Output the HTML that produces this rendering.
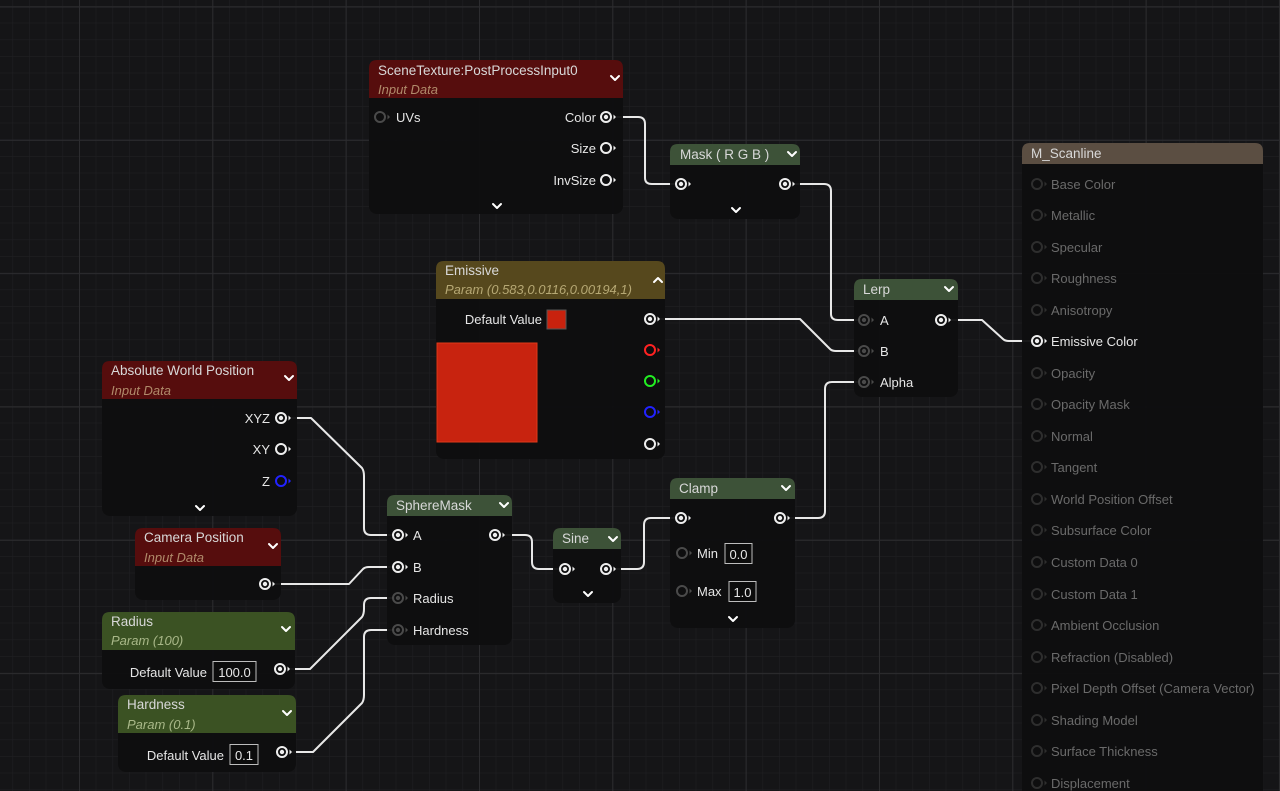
<!DOCTYPE html>
<html><head><meta charset="utf-8"><style>
html,body{margin:0;padding:0;background:#151517;overflow:hidden}
svg{display:block}
text{font-family:"Liberation Sans",sans-serif;font-size:13px;fill:#e6e6e6}
.t{font-size:13.5px;fill:#d8d8d8}
.s{font-style:italic;fill:#b08a6a;font-size:13px}
.sg{font-style:italic;fill:#a9b889;font-size:13px}
.sy{font-style:italic;fill:#b6a874;font-size:13px}
.d{fill:#6a6a6a}
.body{fill:#0e0e0f;fill-opacity:.95}
.w{fill:none;stroke:#e8e8e8;stroke-width:2;stroke-linejoin:round;stroke-linecap:round}
.ch{fill:none;stroke:#fff;stroke-width:2;stroke-linecap:round;stroke-linejoin:round}
.box{fill:#0c0c0c;stroke:#bdbdbd;stroke-width:1}
</style></head><body>
<svg width="1280" height="791" viewBox="0 0 1280 791" xmlns="http://www.w3.org/2000/svg">
<defs>
<pattern id="minor" x="12.33" y="6" width="16.667" height="16.667" patternUnits="userSpaceOnUse">
<path d="M0 0V16.667M0 0H16.667" stroke="#1f1f22" stroke-width="1.2" fill="none"/>
</pattern>
<pattern id="major" x="79" y="6.5" width="133.33" height="133.33" patternUnits="userSpaceOnUse">
<path d="M0 0V133.33M0 0H133.33" stroke="#2c2c2f" stroke-width="2" fill="none"/>
</pattern>
<g id="pc"><circle r="5" fill="none" stroke="#eee" stroke-width="2"/><circle r="2.2" fill="#eee"/><path d="M7.5 -2.5L10 0L7.5 2.5Z" fill="#eee"/></g>
<g id="po"><circle r="5" fill="none" stroke="#eee" stroke-width="2"/><path d="M7.5 -2.5L10 0L7.5 2.5Z" fill="#eee"/></g>
<g id="pg"><circle r="5" fill="none" stroke="#4a4a4a" stroke-width="2"/><circle r="2.2" fill="#4a4a4a"/><path d="M7.5 -2.5L10 0L7.5 2.5Z" fill="#4a4a4a"/></g>
<g id="pu"><circle r="5" fill="none" stroke="#4a4a4a" stroke-width="2"/><path d="M7.5 -2.5L10 0L7.5 2.5Z" fill="#4a4a4a"/></g>
<g id="pd"><circle r="5" fill="none" stroke="#2e2e2e" stroke-width="2"/><path d="M7.5 -2.5L10 0L7.5 2.5Z" fill="#2e2e2e"/></g>
</defs>
<rect width="1280" height="791" fill="#151517"/>
<rect width="1280" height="791" fill="url(#minor)"/>
<rect width="1280" height="791" fill="url(#major)"/>

<path class="w" d="M617 117H638Q645 117 645 124V178Q645 184 652 184H676"/>
<path class="w" d="M795 184H824Q831 184 831 191V314Q831 320 838 320H860"/>
<path class="w" d="M660 319H800L830 349Q832 351 836 351H860"/>
<path class="w" d="M950 320H982L1003 339Q1005 341 1009 341H1033"/>
<path class="w" d="M790 518H818Q825 518 825 511V389Q825 382 832 382H860"/>
<path class="w" d="M291 418H311L362 468Q364 471 364 476V528Q364 535 371 535H394"/>
<path class="w" d="M275 584H349L363 569Q365 567 369 567H394"/>
<path class="w" d="M290 669H310L362 617Q364 614 364 609V605Q364 598 371 598H394"/>
<path class="w" d="M292 752H313L362 703Q364 700 364 695V637Q364 630 371 630H394"/>
<path class="w" d="M505 535H525Q532 535 532 542V562Q532 569 539 569H563"/>
<path class="w" d="M615 569H637Q644 569 644 562V525Q644 518 651 518H679"/>

<rect class="body" x="369" y="60" width="254" height="154" rx="8"/>
<path d="M377 60H615Q623 60 623 68V98H369V68Q369 60 377 60Z" fill="#560d0d"/>
<text class="t" x="378" y="75">SceneTexture:PostProcessInput0</text>
<text class="s" x="378" y="94">Input Data</text>
<path class="ch" d="M611 76L615 80L619 76"/>
<use href="#pu" x="380" y="117"/><text x="396" y="122">UVs</text>
<text x="596" y="122" text-anchor="end">Color</text><use href="#pc" x="606" y="117"/>
<text x="596" y="153" text-anchor="end">Size</text><use href="#po" x="606" y="148"/>
<text x="596" y="185" text-anchor="end">InvSize</text><use href="#po" x="606" y="180"/>
<path class="ch" d="M493 204L497 208L501 204"/>

<rect class="body" x="670" y="144" width="130" height="75" rx="8"/>
<path d="M678 144H792Q800 144 800 152V165H670V152Q670 144 678 144Z" fill="#3d5238"/>
<text class="t" x="680" y="159">Mask ( R G B )</text>
<path class="ch" d="M788 152L792 156L796 152"/>
<use href="#pc" x="681" y="184"/><use href="#pc" x="785" y="184"/>
<path class="ch" d="M732 208L736 212L740 208"/>

<rect class="body" x="436" y="261" width="229" height="198" rx="8"/>
<path d="M444 261H657Q665 261 665 269V299H436V269Q436 261 444 261Z" fill="#56481d"/>
<text class="t" x="445" y="275">Emissive</text>
<text class="sy" x="445" y="294">Param (0.583,0.0116,0.00194,1)</text>
<path class="ch" d="M654 282L658 278L662 282"/>
<text x="542" y="324" text-anchor="end">Default Value</text>
<rect x="547" y="310" width="19" height="19" fill="#c8220e" stroke="#555" stroke-width="1"/>
<rect x="437" y="343" width="100" height="99" fill="#c8230f" stroke="#e03a1a" stroke-width="1"/>
<use href="#pc" x="650" y="319"/>
<g transform="translate(650 350)"><circle r="5" fill="none" stroke="#f22" stroke-width="2"/><path d="M7.5 -2.5L10 0L7.5 2.5Z" fill="#f22"/></g>
<g transform="translate(650 381)"><circle r="5" fill="none" stroke="#2e2" stroke-width="2"/><path d="M7.5 -2.5L10 0L7.5 2.5Z" fill="#2e2"/></g>
<g transform="translate(650 412)"><circle r="5" fill="none" stroke="#22f" stroke-width="2"/><path d="M7.5 -2.5L10 0L7.5 2.5Z" fill="#22f"/></g>
<use href="#po" x="650" y="444"/>

<rect class="body" x="854" y="279" width="104" height="118" rx="8"/>
<path d="M862 279H950Q958 279 958 287V300H854V287Q854 279 862 279Z" fill="#3d5238"/>
<text class="t" x="863" y="294">Lerp</text>
<path class="ch" d="M945 287L949 291L953 287"/>
<use href="#pg" x="864" y="320"/><text x="880" y="325">A</text>
<use href="#pg" x="864" y="351"/><text x="880" y="356">B</text>
<use href="#pg" x="864" y="382"/><text x="880" y="387">Alpha</text>
<use href="#pc" x="941" y="320"/>

<rect class="body" x="1022" y="143" width="241" height="660" rx="8"/>
<path d="M1030 143H1255Q1263 143 1263 151V164H1022V151Q1022 143 1030 143Z" fill="#5b4e42"/>
<text class="t" x="1031" y="158">M_Scanline</text>
<g>
<use href="#pd" x="1037" y="184"/><text class="d" x="1051" y="189">Base Color</text>
<use href="#pd" x="1037" y="215"/><text class="d" x="1051" y="220">Metallic</text>
<use href="#pd" x="1037" y="247"/><text class="d" x="1051" y="252">Specular</text>
<use href="#pd" x="1037" y="278"/><text class="d" x="1051" y="283">Roughness</text>
<use href="#pd" x="1037" y="310"/><text class="d" x="1051" y="315">Anisotropy</text>
<use href="#pc" x="1037" y="341"/><text x="1051" y="346">Emissive Color</text>
<use href="#pd" x="1037" y="373"/><text class="d" x="1051" y="378">Opacity</text>
<use href="#pd" x="1037" y="404"/><text class="d" x="1051" y="409">Opacity Mask</text>
<use href="#pd" x="1037" y="436"/><text class="d" x="1051" y="441">Normal</text>
<use href="#pd" x="1037" y="467"/><text class="d" x="1051" y="472">Tangent</text>
<use href="#pd" x="1037" y="499"/><text class="d" x="1051" y="504">World Position Offset</text>
<use href="#pd" x="1037" y="530"/><text class="d" x="1051" y="535">Subsurface Color</text>
<use href="#pd" x="1037" y="562"/><text class="d" x="1051" y="567">Custom Data 0</text>
<use href="#pd" x="1037" y="594"/><text class="d" x="1051" y="599">Custom Data 1</text>
<use href="#pd" x="1037" y="625"/><text class="d" x="1051" y="630">Ambient Occlusion</text>
<use href="#pd" x="1037" y="657"/><text class="d" x="1051" y="662">Refraction (Disabled)</text>
<use href="#pd" x="1037" y="688"/><text class="d" x="1051" y="693">Pixel Depth Offset (Camera Vector)</text>
<use href="#pd" x="1037" y="720"/><text class="d" x="1051" y="725">Shading Model</text>
<use href="#pd" x="1037" y="751"/><text class="d" x="1051" y="756">Surface Thickness</text>
<use href="#pd" x="1037" y="783"/><text class="d" x="1051" y="788">Displacement</text>
</g>

<rect class="body" x="102" y="361" width="195" height="155" rx="8"/>
<path d="M110 361H289Q297 361 297 369V399H102V369Q102 361 110 361Z" fill="#560d0d"/>
<text class="t" x="111" y="375">Absolute World Position</text>
<text class="s" x="111" y="395">Input Data</text>
<path class="ch" d="M285 376L289 380L293 376"/>
<text x="270" y="423" text-anchor="end">XYZ</text><use href="#pc" x="281" y="418"/>
<text x="270" y="454" text-anchor="end">XY</text><use href="#po" x="281" y="449"/>
<text x="270" y="486" text-anchor="end">Z</text>
<g transform="translate(281 481)"><circle r="5" fill="none" stroke="#22f" stroke-width="2"/><path d="M7.5 -2.5L10 0L7.5 2.5Z" fill="#22f"/></g>
<path class="ch" d="M196 506L200 510L204 506"/>

<rect class="body" x="135" y="528" width="146" height="72" rx="8"/>
<path d="M143 528H273Q281 528 281 536V566H135V536Q135 528 143 528Z" fill="#560d0d"/>
<text class="t" x="144" y="542">Camera Position</text>
<text class="s" x="144" y="562">Input Data</text>
<path class="ch" d="M269 544L273 548L277 544"/>
<use href="#pc" x="265" y="584"/>

<rect class="body" x="102" y="612" width="193" height="77" rx="8"/>
<path d="M110 612H287Q295 612 295 620V650H102V620Q102 612 110 612Z" fill="#3b5223"/>
<text class="t" x="111" y="626">Radius</text>
<text class="sg" x="111" y="645">Param (100)</text>
<path class="ch" d="M282 627L286 631L290 627"/>
<text x="207" y="677" text-anchor="end">Default Value</text>
<rect class="box" x="213" y="661.5" width="43" height="20"/><text x="234.5" y="677" text-anchor="middle">100.0</text>
<use href="#pc" x="280" y="669"/>

<rect class="body" x="118" y="695" width="178" height="77" rx="8"/>
<path d="M126 695H288Q296 695 296 703V733H118V703Q118 695 126 695Z" fill="#3b5223"/>
<text class="t" x="127" y="709">Hardness</text>
<text class="sg" x="127" y="729">Param (0.1)</text>
<path class="ch" d="M283 711L287 715L291 711"/>
<text x="224" y="760" text-anchor="end">Default Value</text>
<rect class="box" x="230" y="744.5" width="28" height="20"/><text x="244" y="760" text-anchor="middle">0.1</text>
<use href="#pc" x="282" y="752"/>

<rect class="body" x="387" y="495" width="125" height="150" rx="8"/>
<path d="M395 495H504Q512 495 512 503V516H387V503Q387 495 395 495Z" fill="#3d5238"/>
<text class="t" x="396" y="510">SphereMask</text>
<path class="ch" d="M500 503L504 507L508 503"/>
<use href="#pc" x="398" y="535"/><text x="413" y="540">A</text>
<use href="#pc" x="398" y="567"/><text x="413" y="572">B</text>
<use href="#pg" x="398" y="598"/><text x="413" y="603">Radius</text>
<use href="#pg" x="398" y="630"/><text x="413" y="635">Hardness</text>
<use href="#pc" x="495" y="535"/>

<rect class="body" x="553" y="528" width="68" height="75" rx="8"/>
<path d="M561 528H613Q621 528 621 536V549H553V536Q553 528 561 528Z" fill="#3d5238"/>
<text class="t" x="562" y="543">Sine</text>
<path class="ch" d="M609 537L613 541L617 537"/>
<use href="#pc" x="565" y="569"/><use href="#pc" x="606" y="569"/>
<path class="ch" d="M584 592L588 596L592 592"/>

<rect class="body" x="670" y="478" width="125" height="150" rx="8"/>
<path d="M678 478H787Q795 478 795 486V499H670V486Q670 478 678 478Z" fill="#3d5238"/>
<text class="t" x="679" y="493">Clamp</text>
<path class="ch" d="M782 486L786 490L790 486"/>
<use href="#pc" x="681" y="518"/><use href="#pc" x="780" y="518"/>
<use href="#pu" x="682" y="553"/><text x="697" y="558">Min</text>
<rect class="box" x="725" y="543.5" width="27" height="20"/><text x="738.5" y="559" text-anchor="middle">0.0</text>
<use href="#pu" x="682" y="591"/><text x="697" y="596">Max</text>
<rect class="box" x="729" y="581.5" width="27" height="20"/><text x="742.5" y="597" text-anchor="middle">1.0</text>
<path class="ch" d="M729 617L733 621L737 617"/>
</svg>
</body></html>
